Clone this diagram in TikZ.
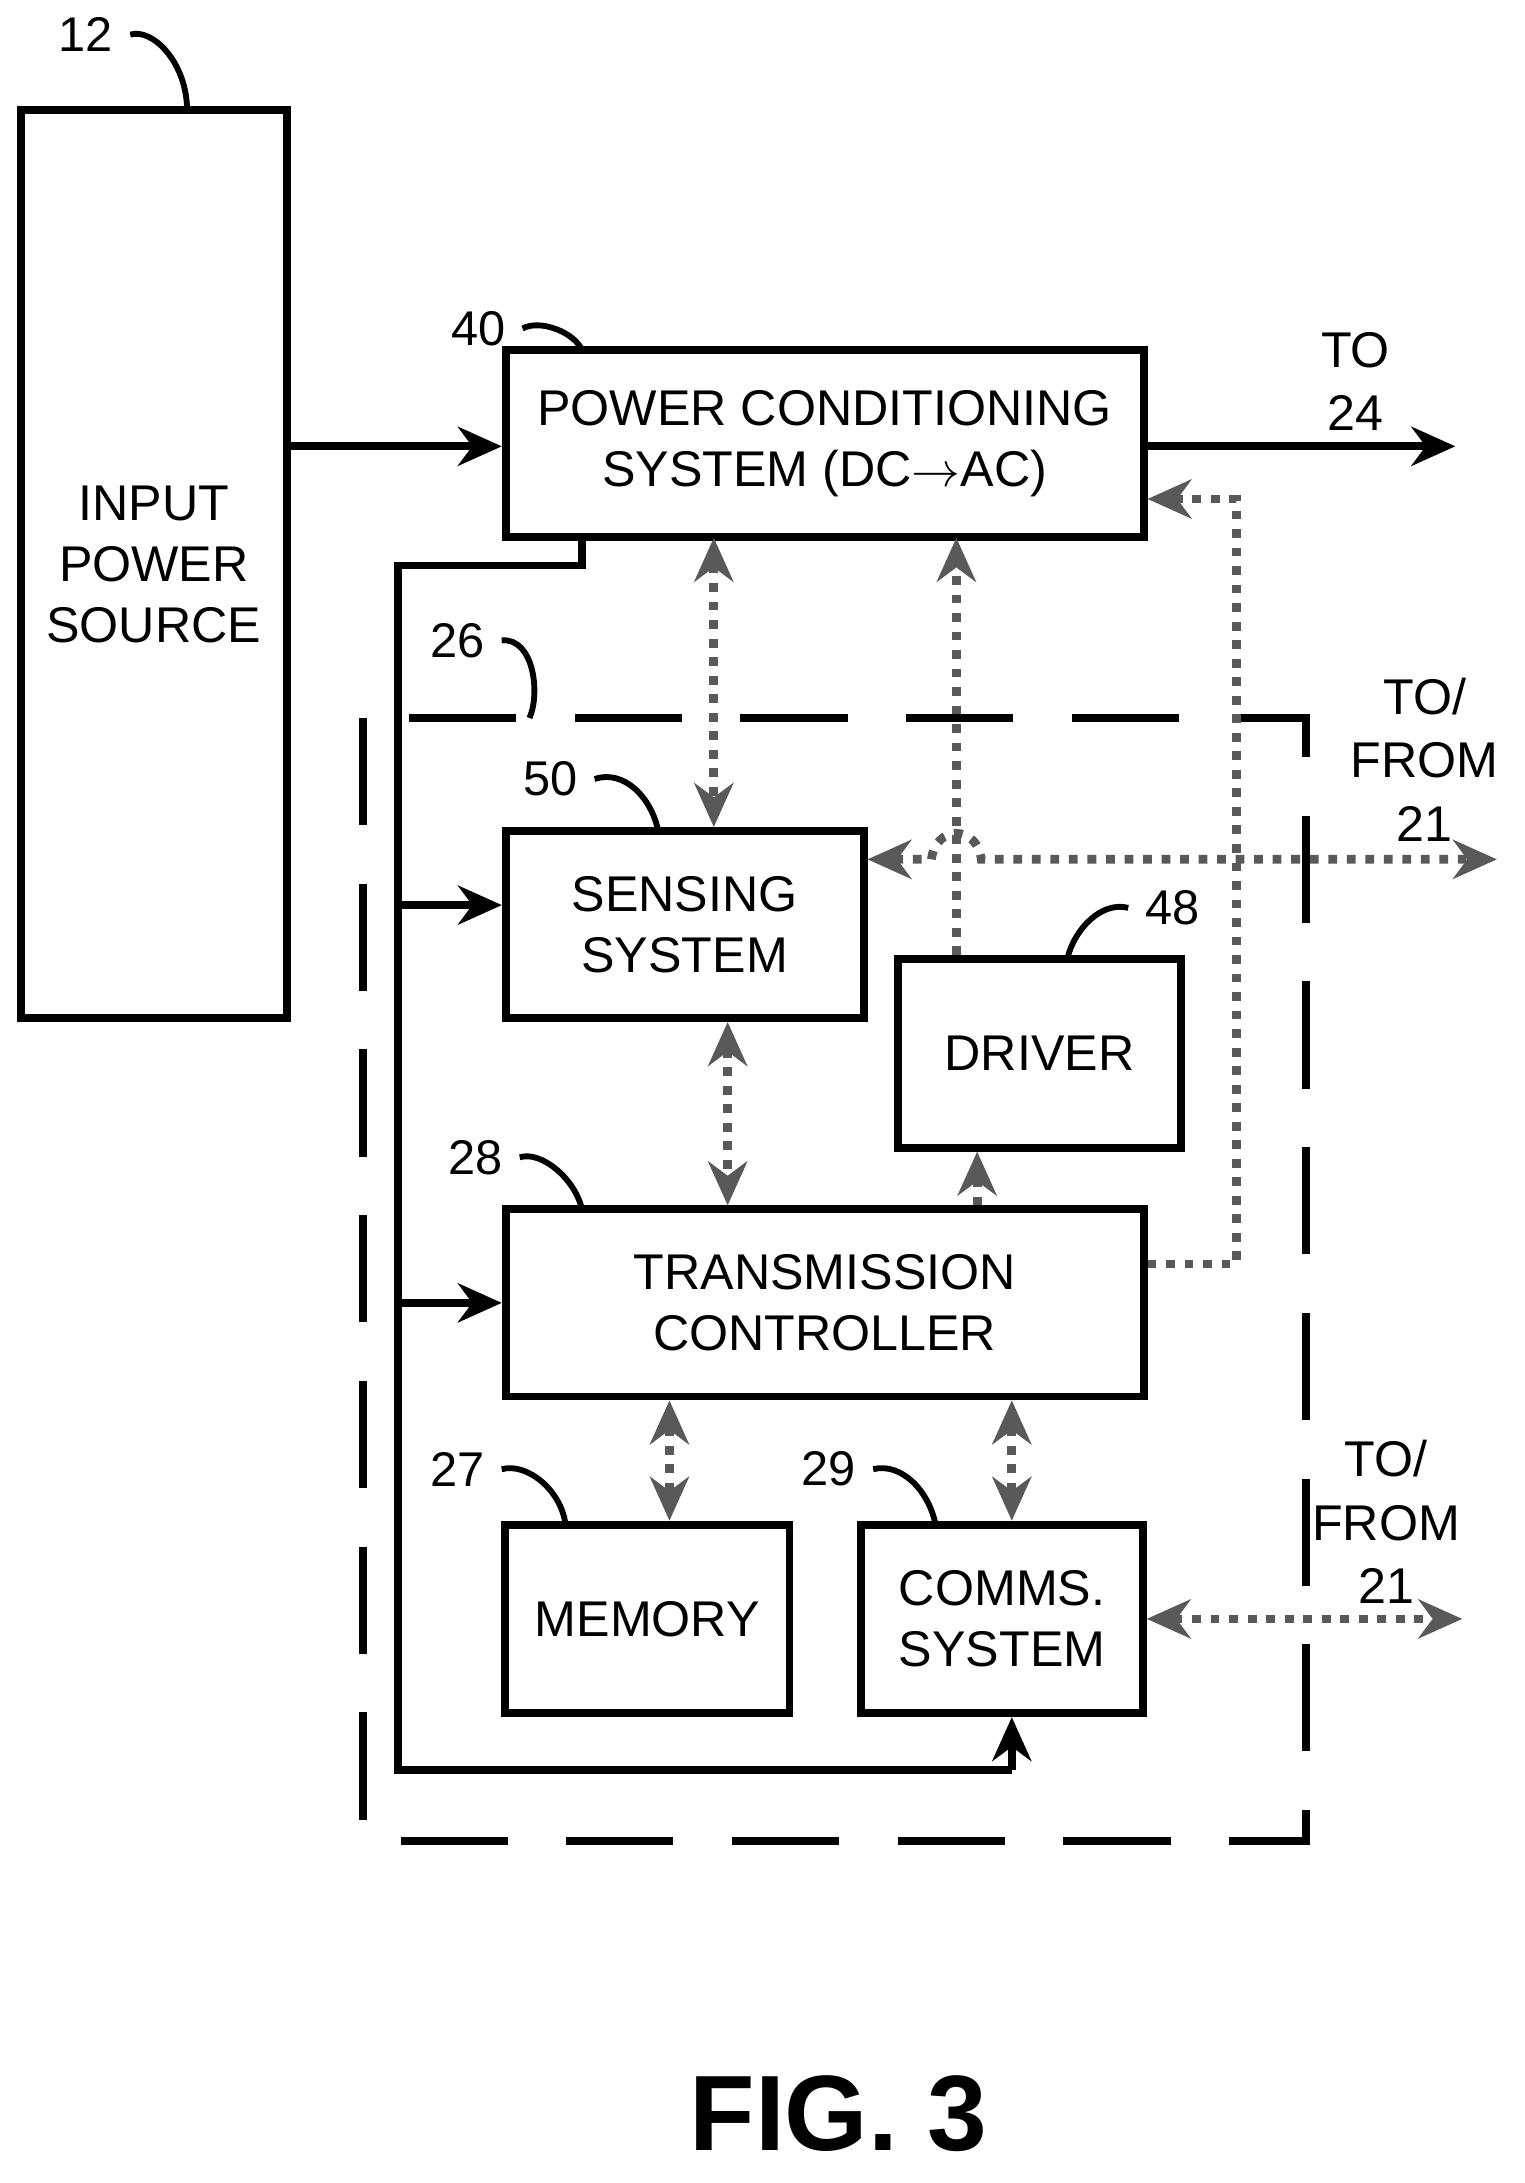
\documentclass[tikz,border=0pt]{standalone}
\usepackage{fontspec}
\setmainfont{Liberation Sans}
\usetikzlibrary{arrows.meta,positioning,calc}
\tikzset{
	blk/.style={draw,line width=1.6pt,align=center,font=\fontsize{10.3}{12.5}\selectfont,inner sep=0pt},
	pwr/.style={line width=1.6pt,-{Stealth[length=9pt,width=8pt]}},
	sig/.style={line width=1.8pt,dotted,gray!70!black,{Stealth[length=9pt,width=8pt]}-{Stealth[length=9pt,width=8pt]}},
	sig1/.style={line width=1.8pt,dotted,gray!70!black,-{Stealth[length=9pt,width=8pt]}},
	lead/.style={line width=1.2pt},
	num/.style={font=\fontsize{10}{12}\selectfont},
	side/.style={font=\fontsize{10.3}{13}\selectfont,align=center},
}
\begin{document}
\begin{tikzpicture}[x=0.01cm,y=-0.01cm]
\useasboundingbox (0,0) rectangle (1100,1575);
% blocks
\node (src) [blk,minimum width=1.92cm,minimum height=6.55cm] at (111,407) {INPUT\\POWER\\SOURCE};
\node (pcs) [blk,minimum width=4.6cm,minimum height=1.35cm] at (595,320) {POWER CONDITIONING\\SYSTEM (DC$\rightarrow$AC)};
\node (sens) [blk,minimum width=2.58cm,minimum height=1.35cm] at (494,667) {SENSING\\SYSTEM};
\node (drv) [blk,minimum width=2.04cm,minimum height=1.36cm] at (750,760) {DRIVER};
\node (tc) [blk,minimum width=4.6cm,minimum height=1.35cm] at (595,940) {TRANSMISSION\\CONTROLLER};
\node (mem) [blk,minimum width=2.05cm,minimum height=1.36cm] at (467,1168) {MEMORY};
\node (com) [blk,minimum width=2.03cm,minimum height=1.36cm] at (723,1168) {COMMS.\\SYSTEM};
% enclosure 26
\draw[line width=1.6pt,dash pattern=on 22pt off 12pt] (262,518) rectangle (942,1328);
% reference numerals
\node[num] (n12) at (62,25) {12};
\draw[lead] (n12.east) .. controls (110,20) and (135,45) .. (135,80);
\node[num] (n40) at (345,237) {40};
\draw[lead] (n40.east) .. controls (390,230) and (415,240) .. (420,253);
\node[num] (n26) at (330,462) {26};
\draw[lead] (n26.east) .. controls (385,460) and (390,500) .. (382,518);
\node[num] (n50) at (397,562) {50};
\draw[lead] (n50.east) .. controls (450,555) and (470,575) .. (475,600);
\node[num] (n48) at (846,655) {48};
\draw[lead] (n48.west) .. controls (795,650) and (775,670) .. (770,692);
\node[num] (n28) at (343,835) {28};
\draw[lead] (n28.east) .. controls (390,830) and (415,850) .. (420,873);
\node[num] (n27) at (330,1060) {27};
\draw[lead] (n27.east) .. controls (380,1055) and (405,1075) .. (408,1100);
\node[num] (n29) at (598,1060) {29};
\draw[lead] (n29.east) .. controls (650,1055) and (670,1075) .. (675,1100);
% power paths
\draw[pwr] (src.east|-0,322) -- (pcs.west|-0,322);
\draw[pwr] (pcs.east|-0,322) -- (1050,322);
\node[side] at (978,275) {TO\\24};
\draw[line width=1.6pt] (420,388) -- (420,408) -- (287,408) -- (287,1277) -- (730,1277) coordinate (cb);
\draw[pwr] (cb) -- (com.south-|cb);
\draw[pwr] (287,653) -- (sens.west|-0,653);
\draw[pwr] (287,940) -- (tc.west);
% signal paths
\draw[sig] (515,388) -- (sens.north-|515,0);
\draw[sig] (sens.south-|525,0) -- (tc.north-|525,0);
\draw[sig1] (tc.north-|705,0) -- (drv.south-|705,0);
\draw[sig1] (drv.north-|690,0) -- (690,388);
\draw[sig1] (tc.east|-0,912) -- (892,912) -- (892,360) -- (pcs.east|-0,360);
\draw[sig] (sens.east|-0,620) -- (672,620) .. controls (675,595) and (705,595) .. (708,620) -- (1080,620);
\node[side] at (1028,548) {TO/\\FROM\\21};
\draw[sig] (tc.south-|483,0) -- (mem.north-|483,0);
\draw[sig] (tc.south-|730,0) -- (com.north-|730,0);
\draw[sig] (com.east|-0,1168) -- (1055,1168);
\node[side] at (1000,1098) {TO/\\FROM\\21};
\node[font=\fontsize{22}{26}\bfseries\selectfont] at (605,1525) {FIG. 3};
\end{tikzpicture}
\end{document}
